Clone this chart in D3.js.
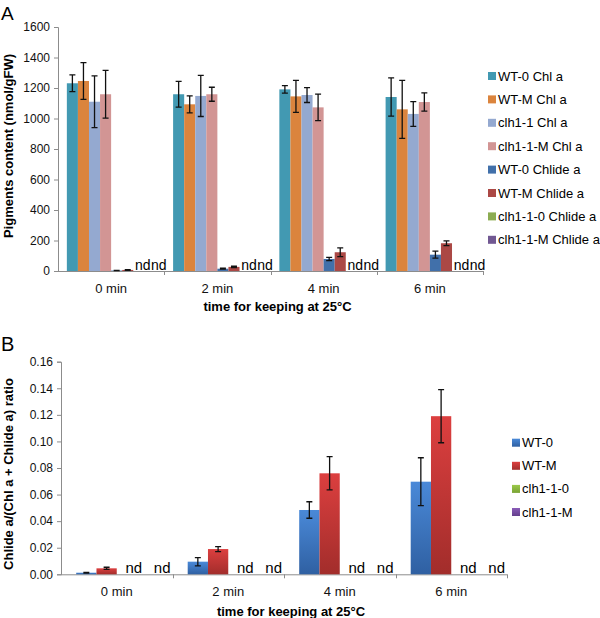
<!DOCTYPE html>
<html>
<head>
<meta charset="utf-8">
<script src="https://cdn.jsdelivr.net/npm/d3@7"></script>
<style>
  body { margin: 0; background: #fff; }
  svg { font-family: "Liberation Sans", Arial, Helvetica, sans-serif; }
  .axis path, .axis line { stroke: #8c8c8c; }
  .axis text { fill: #111; }
</style>
</head>
<body>
<div id="chart"></div>
<script>
// categories
var times = ["0 min", "2 min", "4 min", "6 min"];

// panel A: pigments content (nmol/gFW), null = nd
var seriesA = ["WT-0 Chl a", "WT-M Chl a", "clh1-1 Chl a", "clh1-1-M Chl a",
               "WT-0 Chlide a", "WT-M Chlide a", "clh1-1-0 Chlide a", "clh1-1-M Chlide a"];
var wt0ChlA = [1231, 1159, 1191, 1141];
var wt0ChlAErr = [55, 85, 24, 125];
var wtmChlA = [1246, 1093, 1145, 1060];
var wtmChlAErr = [120, 56, 105, 190];
var clhChlA = [1110, 1148, 1154, 1030];
var clhChlAErr = [170, 135, 49, 81];
var clhmChlA = [1159, 1159, 1073, 1108];
var clhmChlAErr = [157, 46, 87, 60];
var wt0Chlide = [3, 15, 79, 107];
var wt0ChlideErr = [1, 3, 11, 23];
var wtmChlide = [7, 27, 123, 182];
var wtmChlideErr = [2, 4, 29, 15];
var clh0Chlide = [null, null, null, null];
var clhmChlide = [null, null, null, null];
var ticksA = [0, 200, 400, 600, 800, 1000, 1200, 1400, 1600];

// panel B: Chlide a / (Chl a + Chlide a) ratio
var seriesB = ["WT-0", "WT-M", "clh1-1-0", "clh1-1-M"];
var wt0Ratio = [0.0012, 0.0095, 0.0484, 0.0697];
var wt0RatioErr = [0.0003, 0.0031, 0.0062, 0.018];
var wtmRatio = [0.0045, 0.019, 0.076, 0.119];
var wtmRatioErr = [0.0008, 0.0019, 0.0125, 0.020];
var clh0Ratio = [null, null, null, null];
var clhmRatio = [null, null, null, null];
var ticksB = [0, 0.02, 0.04, 0.06, 0.08, 0.10, 0.12, 0.14, 0.16];

var colorsA = ["#4299b2", "#db843d", "#94a9d0", "#d29594", "#4170aa", "#ab4845", "#8cac52", "#715892"];
var colorsB = [["#4a89d8", "#2f60a2"], ["#dc3f3f", "#a22d2b"], ["#9bc94a", "#79a334"], ["#8a5cb8", "#643f8c"]];

var svg = d3.select("#chart").append("svg")
    .attr("width", 600)
    .attr("height", 618);

var defs = svg.append("defs");
colorsB.forEach(function(c, i) {
    var g = defs.append("linearGradient")
        .attr("id", "gradB" + i)
        .attr("x1", 0).attr("y1", 0).attr("x2", 0).attr("y2", 1);
    g.append("stop").attr("offset", "0%").attr("stop-color", c[0]);
    g.append("stop").attr("offset", "100%").attr("stop-color", c[1]);
});

function drawPanel(opt)
{
    var g = svg.append("g");

    var x0 = d3.scaleBand()
        .domain(times)
        .range([opt.left, opt.right]);

    var x1 = d3.scaleBand()
        .domain(opt.series)
        .range([0, x0.bandwidth()])
        .paddingOuter(opt.outer);

    var y = d3.scaleLinear()
        .domain([0, opt.max])
        .range([opt.bottom, opt.top]);

    // y axis
    var yAxis = g.append("g")
        .attr("class", "axis")
        .attr("transform", "translate(" + opt.left + ",0)")
        .call(d3.axisLeft(y).tickValues(opt.ticks).tickSize(4).tickPadding(4).tickFormat(opt.fmt));
    yAxis.selectAll("text").style("font-size", "12px");

    // x axis: line with ticks at the category borders
    var xAxis = g.append("g").attr("class", "axis");
    xAxis.append("line")
        .attr("x1", opt.left).attr("x2", opt.right)
        .attr("y1", opt.bottom + 0.5).attr("y2", opt.bottom + 0.5);
    xAxis.selectAll(".brd")
        .data(times)
        .enter().append("line")
        .attr("x1", function(d) { return Math.round(x0(d) + x0.bandwidth()) + 0.5; })
        .attr("x2", function(d) { return Math.round(x0(d) + x0.bandwidth()) + 0.5; })
        .attr("y1", opt.bottom)
        .attr("y2", opt.bottom + 4);
    xAxis.selectAll(".lbl")
        .data(times)
        .enter().append("text")
        .attr("x", function(d) { return x0(d) + x0.bandwidth() / 2; })
        .attr("y", opt.bottom + 22)
        .attr("text-anchor", "middle")
        .style("font-size", "13px")
        .text(function(d) { return d; });

    // bars
    opt.values.forEach(function(vals, s) {
        vals.forEach(function(v, i) {
            var bx = x0(times[i]) + x1(opt.series[s]);
            if (v === null) {
                g.append("text")
                    .attr("x", bx + x1.bandwidth() / 2 + opt.ndShift[s])
                    .attr("y", opt.bottom - 1)
                    .attr("text-anchor", "middle")
                    .style("font-size", opt.ndSize)
                    .text("nd");
                return;
            }
            g.append("rect")
                .attr("x", bx)
                .attr("y", y(v))
                .attr("width", x1.bandwidth())
                .attr("height", opt.bottom - y(v))
                .attr("fill", opt.fill(s));
            var e = opt.errors[s][i];
            if (e) {
                var cx = bx + x1.bandwidth() / 2;
                g.append("path")
                    .attr("d", "M" + cx + "," + y(v - e) + "V" + y(v + e) +
                               "M" + (cx - 3) + "," + y(v + e) + "H" + (cx + 3) +
                               "M" + (cx - 3) + "," + y(v - e) + "H" + (cx + 3))
                    .attr("stroke", "#111")
                    .attr("stroke-width", 1.3)
                    .attr("fill", "none");
            }
        });
    });

    // legend
    var leg = g.selectAll(".leg")
        .data(opt.series)
        .enter().append("g")
        .attr("transform", function(d, i) { return "translate(" + opt.legX + "," + (opt.legY + i * opt.legStep) + ")"; });
    leg.append("rect")
        .attr("x", 0).attr("y", -4)
        .attr("width", 8).attr("height", 8)
        .attr("fill", function(d, i) { return opt.fill(i); });
    leg.append("text")
        .attr("x", 10).attr("y", 4.5)
        .style("font-size", "13px")
        .text(function(d) { return d; });

    // axis titles
    g.append("text")
        .attr("x", (opt.left + opt.right) / 2 + 7)
        .attr("y", opt.xTitleY)
        .attr("text-anchor", "middle")
        .style("font-size", "13px")
        .style("font-weight", "bold")
        .text("time for keeping at 25°C");
    g.append("text")
        .attr("transform", "translate(" + 13 + "," + opt.yTitleC + ") rotate(-90)")
        .attr("text-anchor", "middle")
        .style("font-size", "13px")
        .style("font-weight", "bold")
        .text(opt.yTitle);

    // panel letter
    g.append("text")
        .attr("x", 1)
        .attr("y", opt.letterY)
        .style("font-size", opt.letterSize)
        .text(opt.letter);
}

drawPanel({
    letter: "A", letterY: 20, letterSize: "19px",
    left: 58, right: 483, top: 27, bottom: 271,
    max: 1600, ticks: ticksA, fmt: d3.format("d"),
    series: seriesA, outer: 0.8,
    values: [wt0ChlA, wtmChlA, clhChlA, clhmChlA, wt0Chlide, wtmChlide, clh0Chlide, clhmChlide],
    errors: [wt0ChlAErr, wtmChlAErr, clhChlAErr, clhmChlAErr, wt0ChlideErr, wtmChlideErr, [], []],
    fill: function(s) { return colorsA[s]; },
    ndShift: [0, 0, 0, 0, 0, 0, 4, 9], ndSize: "14px",
    legX: 488, legY: 76, legStep: 23.4,
    xTitleY: 311, yTitle: "Pigments content (nmol/gFW)", yTitleC: 146
});

drawPanel({
    letter: "B", letterY: 351, letterSize: "20px",
    left: 61, right: 507, top: 361.7, bottom: 574.3,
    max: 0.16, ticks: ticksB, fmt: d3.format(".2f"),
    series: seriesB, outer: 0.75,
    values: [wt0Ratio, wtmRatio, clh0Ratio, clhmRatio],
    errors: [wt0RatioErr, wtmRatioErr, [], []],
    fill: function(s) { return "url(#gradB" + s + ")"; },
    ndShift: [0, 0, 7, 15], ndSize: "15px",
    legX: 512, legY: 442.7, legStep: 23.1,
    xTitleY: 616, yTitle: "Chlide a/(Chl a + Chlide a) ratio", yTitleC: 474
});
</script>
</body>
</html>
